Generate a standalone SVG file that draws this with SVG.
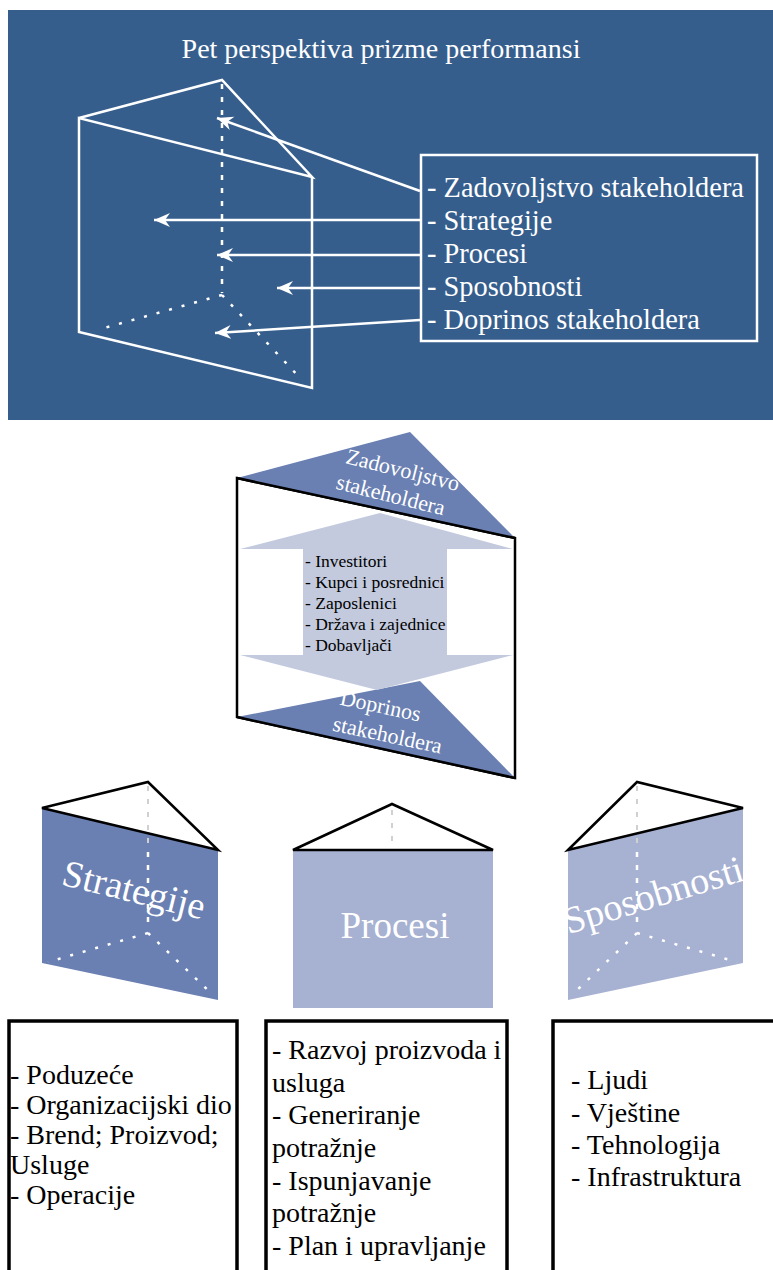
<svg xmlns="http://www.w3.org/2000/svg" width="773" height="1270" viewBox="0 0 773 1270" font-family="'Liberation Serif', 'Times New Roman', Times, serif">
<style>
text{font-family:"Liberation Serif","Times New Roman",Times,serif}
.wt{fill:#fff}
.bk{fill:#000}
.wl{stroke:#fff;stroke-width:2.5;fill:none}
.wd{stroke:#fff;stroke-width:2.5;fill:none;stroke-dasharray:5 8}
.wdot{stroke:#fff;stroke-width:2.5;fill:none;stroke-dasharray:3 10}
.bl{stroke:#000;stroke-width:2.5;fill:#fff;stroke-linejoin:miter}
.gd{stroke:#d0d0d0;stroke-width:2;fill:none;stroke-dasharray:5 8}
.box{fill:#fff;stroke:#000;stroke-width:3.5}
.dark{fill:#6a7fb2}
.light{fill:#a7b1d2}
</style>
<defs>
<marker id="ah" markerWidth="18" markerHeight="16" refX="16" refY="8" orient="auto" markerUnits="userSpaceOnUse">
<path d="M0,1 L16,8 L0,15 L5,8 Z" fill="#fff"/>
</marker>
</defs>
<rect width="773" height="1270" fill="#fff"/>
<g id="panel-top">
<rect x="8" y="10" width="765" height="410" fill="#365e8d"/>
<text class="wt" x="381" y="58" font-size="28" text-anchor="middle">Pet perspektiva prizme performansi</text>
</g>
<g id="prism-top">
<path class="wl" d="M79,118 L222,80 L312,177 L79,118 L79,332 L312,388 L312,177"/>
<path class="wd" d="M222,84 L222,293"/>
<path class="wdot" d="M222,295 L97,330 M222,295 L302,380"/>
</g>
<g id="legend-box">
<rect x="421" y="155" width="336" height="186" fill="none" stroke="#fff" stroke-width="2.5"/>
<text class="wt" font-size="28.4">
<tspan x="427" y="197">- Zadovoljstvo stakeholdera</tspan>
<tspan x="427" y="230">- Strategije</tspan>
<tspan x="427" y="263">- Procesi</tspan>
<tspan x="427" y="296">- Sposobnosti</tspan>
<tspan x="427" y="329">- Doprinos stakeholdera</tspan>
</text>
</g>
<g id="connectors">
<path class="wl" d="M420,191 L217,118" marker-end="url(#ah)"/>
<path class="wl" d="M420,220 L154,220" marker-end="url(#ah)"/>
<path class="wl" d="M420,255 L217,255" marker-end="url(#ah)"/>
<path class="wl" d="M420,288 L277,288" marker-end="url(#ah)"/>
<path class="wl" d="M420,320 L215,333" marker-end="url(#ah)"/>
</g>
<g id="stakeholder-prism">
<path d="M237,478 L237,717 L515,778 L515,538 Z" fill="#fff" stroke="#000" stroke-width="2.5"/>
<polygon class="dark" points="237,478 410,432 515,538"/>
<line x1="237" y1="478" x2="515" y2="538" stroke="#000" stroke-width="2.5"/>
<polygon class="dark" points="237,717 420,681 515,778"/>
<line x1="237" y1="717" x2="515" y2="778" stroke="#000" stroke-width="2.5"/>
<polygon fill="#c3cade" points="380,513 513,549 447,549 447,655 513,655 377,690 240,655 303,655 303,549 240,549"/>
<text class="wt" font-size="22" text-anchor="middle" transform="translate(401,477) rotate(14)">Zadovoljstvo</text>
<text class="wt" font-size="22" text-anchor="middle" transform="translate(389,502) rotate(14)">stakeholdera</text>
<text class="wt" font-size="22" text-anchor="middle" transform="translate(379,713) rotate(12)">Doprinos</text>
<text class="wt" font-size="22" text-anchor="middle" transform="translate(386,742) rotate(12)">stakeholdera</text>
<text class="bk" font-size="17.5">
<tspan x="305" y="567">- Investitori</tspan>
<tspan x="305" y="588">- Kupci i posrednici</tspan>
<tspan x="305" y="609">- Zaposlenici</tspan>
<tspan x="305" y="630">- Država i zajednice</tspan>
<tspan x="305" y="651">- Dobavljači</tspan>
</text>
</g>
<g id="prism-strategije">
<polygon class="dark" points="42,808 218,850 218,1000 42,963"/>
<polygon class="bl" points="42,808 148,782 218,850"/>
<path class="gd" d="M148,786 L148,846"/>
<path class="wd" d="M148,852 L148,927"/>
<path class="wdot" d="M148,933 L48,962 M148,933 L212,994"/>
<text class="wt" font-size="38" text-anchor="middle" transform="translate(131,902) rotate(14)">Strategije</text>
</g>
<g id="prism-procesi">
<rect class="light" x="293" y="850" width="200" height="158"/>
<polygon class="bl" points="293,850 392,804 493,850"/>
<path class="gd" d="M392,810 L392,846"/>
<text class="wt" font-size="37" text-anchor="middle" x="395" y="938">Procesi</text>
</g>
<g id="prism-sposobnosti">
<polygon class="light" points="568,850 743,808 743,963 568,1000"/>
<polygon class="bl" points="568,850 637,782 743,808"/>
<path class="gd" d="M637,786 L637,846"/>
<path class="wd" d="M637,852 L637,927"/>
<path class="wdot" d="M637,933 L575,992 M637,933 L737,962"/>
<text class="wt" font-size="38" text-anchor="middle" transform="translate(657,907) rotate(-17)">Sposobnosti</text>
</g>
<g id="box-strategije">
<rect class="box" x="9" y="1021" width="228" height="260"/>
<text class="bk" font-size="28">
<tspan x="10" y="1084">- Poduzeće</tspan>
<tspan x="10" y="1114">- Organizacijski dio</tspan>
<tspan x="10" y="1144">- Brend; Proizvod;</tspan>
<tspan x="10" y="1174">Usluge</tspan>
<tspan x="10" y="1204">- Operacije</tspan>
</text>
</g>
<g id="box-procesi">
<rect class="box" x="266" y="1021" width="241" height="260"/>
<text class="bk" font-size="28">
<tspan x="272" y="1059">- Razvoj proizvoda i</tspan>
<tspan x="272" y="1092">usluga</tspan>
<tspan x="272" y="1124">- Generiranje</tspan>
<tspan x="272" y="1157">potražnje</tspan>
<tspan x="272" y="1190">- Ispunjavanje</tspan>
<tspan x="272" y="1222">potražnje</tspan>
<tspan x="272" y="1255">- Plan i upravljanje</tspan>
</text>
</g>
<g id="box-sposobnosti">
<rect class="box" x="553" y="1021" width="240" height="260"/>
<text class="bk" font-size="28">
<tspan x="571" y="1089">- Ljudi</tspan>
<tspan x="571" y="1122">- Vještine</tspan>
<tspan x="571" y="1154">- Tehnologija</tspan>
<tspan x="571" y="1186">- Infrastruktura</tspan>
</text>
</g>
</svg>
